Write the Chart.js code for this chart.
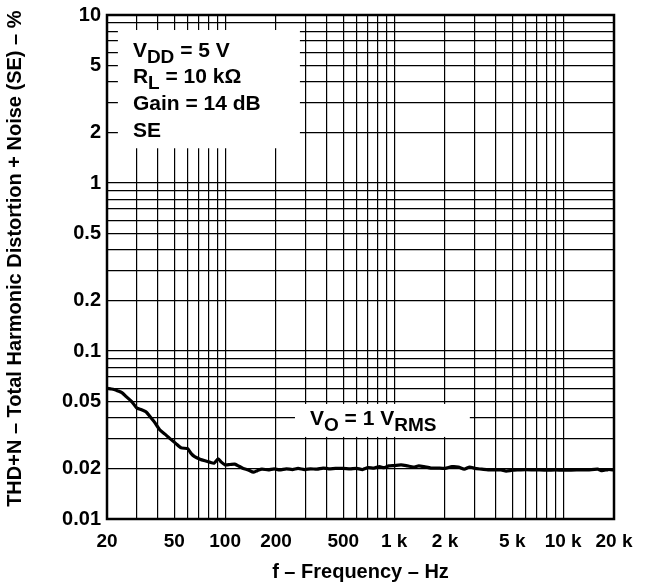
<!DOCTYPE html>
<html>
<head>
<meta charset="utf-8">
<script src="https://cdn.jsdelivr.net/npm/chart.js@4/dist/chart.umd.min.js"></script>
<style>
  body { margin: 0; background: #fff; }
  #wrap { width: 652px; height: 586px; position: relative; }
</style>
</head>
<body>
<div id="wrap"><canvas id="thdChart"></canvas></div>
<script>
// Frequency (Hz) and THD+N (%)
const freqHz = [20, 21, 22, 23, 24.5, 26, 28, 30, 32, 34, 36, 38, 41, 44, 47, 51, 55, 60, 63, 66,
  71, 76, 81, 86, 91, 95, 100, 107, 114, 121, 128, 137, 147, 155, 165, 180, 195, 210, 230, 250,
  270, 295, 320, 350, 380, 410, 450, 500, 550, 600, 650, 700, 760, 820, 870, 930, 1000, 1100, 1200, 1300,
  1400, 1500, 1650, 1800, 2000, 2200, 2400, 2600, 2800, 3000, 3300, 3600, 4000, 4300, 4600, 5000, 5500, 6000, 7000, 8000,
  9000, 10000, 12000, 14000, 16000, 17000, 18500, 20000];
const thdPct = [0.060, 0.0595, 0.059, 0.058, 0.0565, 0.0535, 0.050, 0.0458, 0.0447, 0.0435, 0.0406, 0.038, 0.034, 0.032, 0.0302, 0.0282, 0.0265, 0.0262, 0.0245, 0.0235,
  0.0227, 0.0222, 0.0218, 0.0215, 0.0228, 0.0218, 0.021, 0.0211, 0.0212, 0.0206, 0.020, 0.0196, 0.019, 0.0194, 0.0198, 0.0196, 0.0199, 0.0196, 0.0199, 0.0197,
  0.020, 0.0197, 0.0199, 0.0198, 0.0201, 0.0199, 0.0200, 0.0200, 0.0199, 0.0200, 0.0197, 0.0202, 0.0201, 0.0205, 0.0202, 0.0207, 0.0208, 0.021, 0.0207, 0.0204,
  0.0207, 0.0205, 0.0201, 0.0201, 0.0200, 0.0205, 0.0204, 0.0198, 0.0204, 0.0200, 0.0198, 0.0196, 0.0196, 0.0196, 0.0193, 0.0195, 0.0196, 0.0197, 0.0196, 0.0195,
  0.0196, 0.0195, 0.0196, 0.0196, 0.0198, 0.0194, 0.0197, 0.0196];

// grid lines and tick labels
const xGrid = [20, 30, 40, 50, 60, 70, 80, 90, 100, 200, 300, 400, 500, 600, 700, 800, 900,
  1000, 2000, 3000, 4000, 5000, 6000, 7000, 8000, 9000, 10000, 20000];
const xLabels = { 20: '20', 50: '50', 100: '100', 200: '200', 500: '500', 1000: '1 k', 2000: '2 k',
  5000: '5 k', 10000: '10 k', 20000: '20 k' };
const yGrid = [0.01, 0.02, 0.03, 0.04, 0.05, 0.06, 0.07, 0.08, 0.09, 0.1, 0.2, 0.3, 0.4, 0.5, 0.6, 0.7, 0.8, 0.9,
  1, 2, 3, 4, 5, 6, 7, 8, 9, 10];
const yLabels = { 0.01: '0.01', 0.02: '0.02', 0.05: '0.05', 0.1: '0.1', 0.2: '0.2', 0.5: '0.5',
  1: '1', 2: '2', 5: '5', 10: '10' };

const conditions = [['V', 'DD', ' = 5 V'], ['R', 'L', ' = 10 kΩ'], ['Gain = 14 dB', '', ''], ['SE', '', '']];
const outputLabel = ['V', 'O', ' = 1 V', 'RMS'];

const FONT = '"Liberation Sans", Arial, sans-serif';

// draws text where every other part is a subscript
function drawSub(ctx, x, y, parts) {
  parts.forEach((p, i) => {
    if (!p) return;
    const sub = i % 2 === 1;
    ctx.font = 'bold ' + (sub ? 19 : 21) + 'px ' + FONT;
    ctx.fillText(p, x, sub ? y + 6 : y);
    x += ctx.measureText(p).width;
  });
}

function whiteBox(chart, f0, f1, p0, p1) {
  const xs = chart.scales.x, ys = chart.scales.y;
  const l = xs.getPixelForValue(f0), r = xs.getPixelForValue(f1);
  const t = ys.getPixelForValue(p1), b = ys.getPixelForValue(p0);
  chart.ctx.fillStyle = '#fff';
  chart.ctx.fillRect(l, t, r - l, b - t);
  return { l, t };
}

const notesPlugin = {
  id: 'notes',
  beforeDatasetsDraw(chart) {
    const ctx = chart.ctx;
    ctx.save();
    const a = whiteBox(chart, 23.2, 277, 1.61, 8.14);
    const v = whiteBox(chart, 259, 2805, 0.0308, 0.0484);
    ctx.fillStyle = '#000';
    ctx.textBaseline = 'alphabetic';
    ctx.textAlign = 'left';
    conditions.forEach((c, i) => drawSub(ctx, a.l + 15, a.t + 26.7 * (i + 1), c));
    drawSub(ctx, v.l + 15, v.t + 21, outputLabel);
    ctx.restore();
  },
  afterDatasetsDraw(chart) {
    const { ctx, chartArea: c } = chart;
    ctx.save();
    ctx.strokeStyle = '#000';
    ctx.lineWidth = 2.5;
    ctx.strokeRect(c.left, c.top, c.right - c.left, c.bottom - c.top);
    ctx.restore();
  }
};

new Chart(document.getElementById('thdChart'), {
  type: 'line',
  data: {
    datasets: [{
      data: freqHz.map((f, i) => ({ x: f, y: thdPct[i] })),
      borderColor: '#000',
      borderWidth: 3.2,
      pointRadius: 0,
      tension: 0.2
    }]
  },
  options: {
    responsive: true,
    maintainAspectRatio: false,
    animation: false,
    layout: { padding: { top: 15, right: 38, left: 0, bottom: 0 } },
    plugins: { legend: { display: false }, tooltip: { enabled: false } },
    scales: {
      x: {
        type: 'logarithmic',
        min: 20,
        max: 20000,
        afterBuildTicks: s => { s.ticks = xGrid.map(v => ({ value: v })); },
        afterFit: s => { s.height = 67; s.paddingLeft = 0; s.paddingRight = 0; },
        grid: { color: '#000', lineWidth: 1.2, drawTicks: false },
        border: { display: false },
        ticks: {
          autoSkip: false,
          maxRotation: 0,
          padding: 11,
          color: '#000',
          font: { family: FONT, size: 19, weight: 'bold' },
          callback: v => xLabels[v] || ''
        },
        title: {
          display: true,
          text: 'f – Frequency – Hz',
          color: '#000',
          font: { family: FONT, size: 20, weight: 'bold' },
          padding: { top: 0, bottom: 2 }
        }
      },
      y: {
        type: 'logarithmic',
        min: 0.01,
        max: 10,
        afterBuildTicks: s => { s.ticks = yGrid.map(v => ({ value: v })); },
        afterFit: s => { s.width = 107; s.paddingTop = 0; s.paddingBottom = 0; },
        grid: { color: '#000', lineWidth: 1.2, drawTicks: false },
        border: { display: false },
        ticks: {
          autoSkip: false,
          padding: 6,
          color: '#000',
          font: { family: FONT, size: 20, weight: 'bold' },
          callback: v => yLabels[v] || ''
        },
        title: {
          display: true,
          text: '   THD+N – Total Harmonic Distortion + Noise (SE) – %',
          color: '#000',
          font: { family: FONT, size: 20, weight: 'bold' },
          padding: { top: 3, bottom: 0 }
        }
      }
    }
  },
  plugins: [notesPlugin]
});
</script>
</body>
</html>
